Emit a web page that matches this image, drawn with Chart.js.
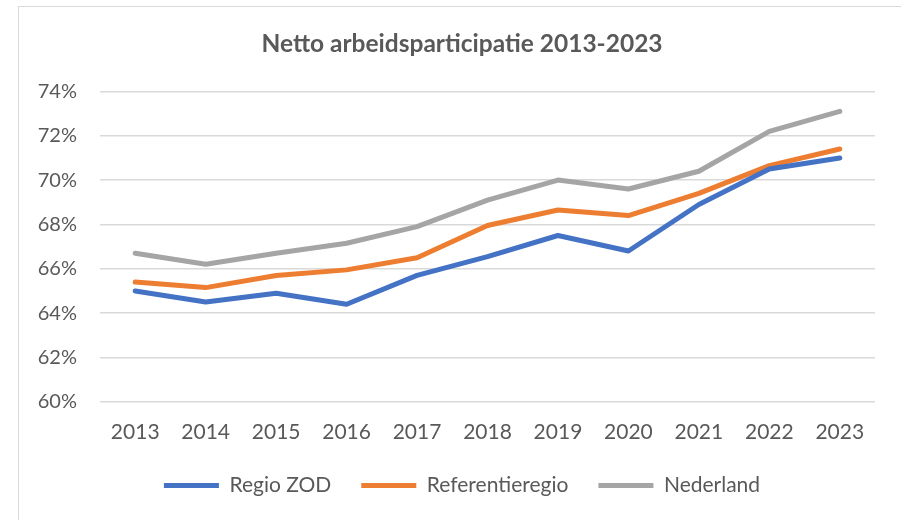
<!DOCTYPE html>
<html lang="nl">
<head>
    <meta charset="UTF-8" />
    <title>Netto arbeidsparticipatie</title>
    <script src="https://cdn.jsdelivr.net/npm/chart.js"></script>
    <style>
        html, body { margin: 0; padding: 0; background: #fff; overflow: hidden; }
        #frame {
            position: absolute; left: 18px; top: 6px;
            width: 900px; height: 530px;
            border: 1.5px solid #d9d9d9;
        }
        #wrap { position: absolute; left: 0; top: 0; width: 901px; height: 520px; }
    </style>
</head>
<body>
    <div id="frame"></div>
    <div id="wrap"><canvas id="chart"></canvas></div>

    <script>
        const years = ['2013', '2014', '2015', '2016', '2017', '2018', '2019', '2020', '2021', '2022', '2023'];
        const regioZod = [65.0, 64.5, 64.9, 64.4, 65.7, 66.55, 67.5, 66.8, 68.9, 70.5, 71.0];
        const referentieregio = [65.4, 65.15, 65.7, 65.95, 66.5, 67.95, 68.65, 68.4, 69.4, 70.65, 71.4];
        const nederland = [66.7, 66.2, 66.7, 67.15, 67.9, 69.1, 70.0, 69.6, 70.4, 72.2, 73.1];

        const textColor = '#595959';
        const fontFamily = 'Lato, "Open Sans", sans-serif';

        function line(label, values, color) {
            return {
                label: label,
                data: values,
                borderColor: color,
                backgroundColor: color,
                borderWidth: 5,
                borderCapStyle: 'round',
                borderJoinStyle: 'round',
                pointRadius: 0,
                pointHoverRadius: 0,
                tension: 0
            };
        }

        // the left padding keeps title and legend centred like the original,
        // but the y labels stick out past it, so widen the label clip box
        const unclipYLabels = {
            id: 'unclipYLabels',
            afterLayout(chart) { chart.scales.y.left = 0; }
        };

        new Chart(document.getElementById('chart'), {
            type: 'line',
            data: {
                labels: years,
                datasets: [
                    line('Regio ZOD', regioZod, '#4472c4'),
                    line('Referentieregio', referentieregio, '#ed7d31'),
                    line('Nederland', nederland, '#a5a5a5')
                ]
            },
            plugins: [unclipYLabels],
            options: {
                responsive: true,
                maintainAspectRatio: false,
                animation: false,
                layout: { padding: { left: 49, right: 26, top: 0, bottom: 14 } },
                plugins: {
                    title: {
                        display: true,
                        text: 'Netto arbeidsparticipatie 2013-2023',
                        color: textColor,
                        font: { family: fontFamily, size: 24.5, weight: 'bold' },
                        padding: { top: 29, bottom: 33 }
                    },
                    legend: {
                        position: 'bottom',
                        labels: {
                            color: textColor,
                            font: { family: fontFamily, size: 21 },
                            usePointStyle: true,
                            pointStyle: 'line',
                            pointStyleWidth: 55,
                            padding: 30
                        }
                    },
                    tooltip: { enabled: false }
                },
                scales: {
                    x: {
                        offset: true,
                        // let the labels sit in the legend's top padding so the plot reaches down further
                        afterFit: function (scale) { scale.height -= 18; },
                        grid: { display: false, drawTicks: false },
                        border: { display: false },
                        ticks: {
                            color: textColor,
                            font: { family: fontFamily, size: 21 },
                            padding: 18,
                            maxRotation: 0
                        }
                    },
                    y: {
                        min: 60,
                        max: 74,
                        afterFit: function (scale) { scale.width = 51; },
                        grid: { color: '#d9d9d9', lineWidth: 1.5, drawTicks: false },
                        border: { display: false },
                        ticks: {
                            stepSize: 2,
                            color: textColor,
                            font: { family: fontFamily, size: 20 },
                            padding: 23,
                            callback: function (v) { return v + '%'; }
                        }
                    }
                }
            }
        });
    </script>
</body>
</html>
